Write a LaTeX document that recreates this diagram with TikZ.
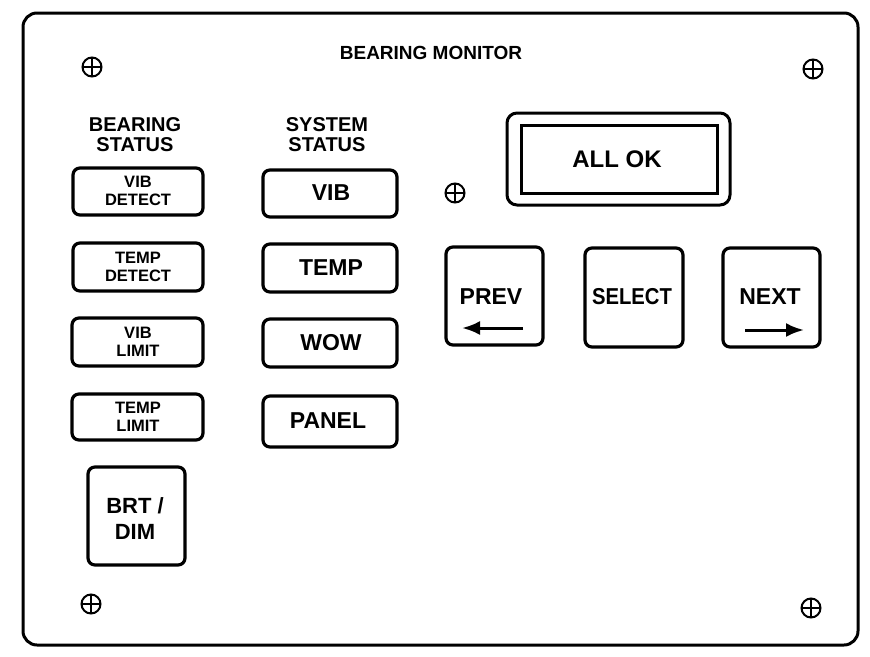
\documentclass[tikz,border=0pt]{standalone}
\usepackage{fontspec}
\setmainfont{Liberation Sans}
\usetikzlibrary{arrows.meta}
\newcommand{\fs}[2]{\fontsize{#1}{#2}\selectfont}
\begin{document}
\begin{tikzpicture}[x=1pt,y=-1pt,
  panel/.style={draw=black,line width=3pt,rounded corners=14pt},
  btn/.style={draw=black,line width=3.2pt,rounded corners=7pt},
  lbl/.style={font=\bfseries,align=center,inner sep=0pt},
  screw/.style={draw=black,line width=2pt,circle,minimum size=19pt,inner sep=0pt,
    path picture={\draw[line width=1.3pt] (path picture bounding box.north) -- (path picture bounding box.south)
      (path picture bounding box.west) -- (path picture bounding box.east);}},
  arr/.style={line width=3pt,-{Latex[length=18pt,width=14pt]}}]
\useasboundingbox (0,0) rectangle (870,656);
\draw[panel] (23,13) rectangle (858,645);
% screws
\node[screw] (s1) at (92,67) {};
\node[screw] (s2) at (813,69) {};
\node[screw] (s3) at (455,193) {};
\node[screw] (s4) at (91,604) {};
\node[screw] (s5) at (811,608) {};
% titles
\node[lbl,font=\bfseries\fs{19}{19}] (title) at (431,53) {BEARING MONITOR};
\node[lbl,font=\bfseries\fs{20}{20}] (bs) at (135,135) {BEARING\\STATUS};
\node[lbl,font=\bfseries\fs{20}{20}] (ss) at (327,135) {SYSTEM\\STATUS};
% left column
\draw[btn] (73,168) rectangle (203,215);
\node[lbl,font=\bfseries\fs{16.5}{18}] (b1) at (138,191) {VIB\\DETECT};
\draw[btn] (73,243) rectangle (203,291);
\node[lbl,font=\bfseries\fs{16.5}{18}] (b2) at (138,267) {TEMP\\DETECT};
\draw[btn] (72,318) rectangle (203,366);
\node[lbl,font=\bfseries\fs{16.5}{18}] (b3) at (138,342) {VIB\\LIMIT};
\draw[btn] (72,394) rectangle (203,440);
\node[lbl,font=\bfseries\fs{16.5}{18}] (b4) at (138,417) {TEMP\\LIMIT};
\draw[btn] (88,467) rectangle (185,565);
\node[lbl,font=\bfseries\fs{22}{26}] (b5) at (135,519) {BRT /\\DIM};
% system column
\draw[btn] (263,170) rectangle (397,217);
\node[lbl,font=\bfseries\fs{23}{23}] (c1) at (331,193) {VIB};
\draw[btn] (263,244) rectangle (397,292);
\node[lbl,font=\bfseries\fs{23}{23}] (c2) at (331,268) {TEMP};
\draw[btn] (263,319) rectangle (397,367);
\node[lbl,font=\bfseries\fs{23}{23}] (c3) at (331,343) {WOW};
\draw[btn] (263,396) rectangle (397,447);
\node[lbl,font=\bfseries\fs{23}{23}] (c4) at (328,421) {PANEL};
% ALL OK
\draw[btn,line width=3pt,rounded corners=10pt] (507,113) rectangle (730,205);
\draw[line width=3pt] (521,125) rectangle (717,193);
\node[lbl,font=\bfseries\fs{24}{24}] (ok) at (617,159) {ALL OK};
% nav buttons
\draw[btn] (446,247) rectangle (543,345);
\node[lbl,font=\bfseries\fs{23}{23}] (prev) at (491,297) {PREV};
\coordinate (p1) at (523,328); \coordinate (p2) at (462,328);
\draw[arr] (p1) -- (p2);
\draw[btn] (585,248) rectangle (683,347);
\node[lbl,font=\bfseries\fs{23}{23}] (sel) at (632,297) {\addfontfeature{FakeStretch=0.88}SELECT};
\draw[btn] (723,248) rectangle (820,347);
\node[lbl,font=\bfseries\fs{23}{23}] (next) at (770,297) {NEXT};
\coordinate (n1) at (745,330); \coordinate (n2) at (804,330);
\draw[arr] (n1) -- (n2);
\end{tikzpicture}
\end{document}
